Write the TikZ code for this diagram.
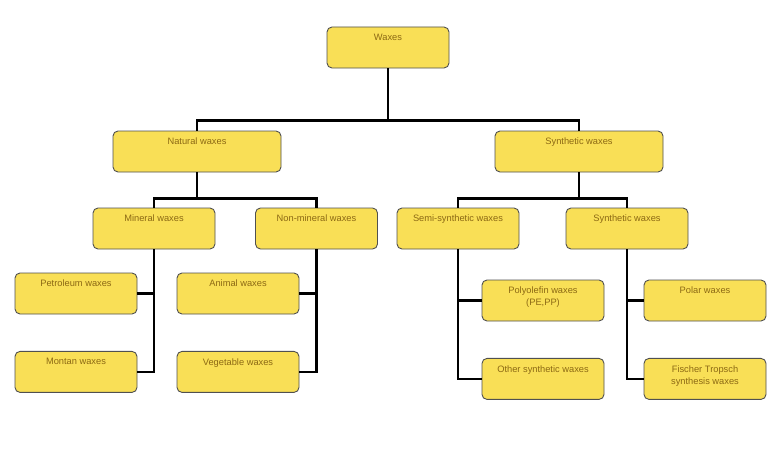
\documentclass[tikz,border=0pt]{standalone}
\usepackage{fontspec}
\setmainfont{Liberation Sans}
\usepackage{tikz}
\usetikzlibrary{positioning}

\definecolor{waxfill}{RGB}{249,223,86}
\definecolor{waxtext}{RGB}{140,105,20}
\definecolor{waxline}{RGB}{80,80,80}

\tikzset{
  waxbox/.style={draw=waxline, line width=0.9pt, fill=waxfill, rounded corners=5pt,
    minimum width=122pt, minimum height=41pt, inner sep=0pt,
    label={[anchor=north, inner sep=0pt, yshift=-7.2pt, align=center, text=waxtext,
      font=\fontsize{9.3}{12.3}\selectfont]north:#1}},
  widebox/.style={waxbox=#1, minimum width=168pt},
  link/.style={line width=2.6pt}
}

\begin{document}
\begin{tikzpicture}[x=1pt, y=-1pt, node distance=36.5pt]
\fill[white] (0,0) rectangle (783,460);
\useasboundingbox (0,0) rectangle (783,460);

% Root
\node (waxes) [waxbox=Waxes] at (388,47.5) {};

% First level
\node (natural) [widebox=Natural waxes] at (197,151.5) {};
\node (synth) [widebox=Synthetic waxes] at (579,151.5) {};

% Second level
\node (mineral) [waxbox=Mineral waxes] at (154,228.5) {};
\node (nonmin) [waxbox=Non-mineral waxes] at (316.5,228.5) {};
\node (semi) [waxbox=Semi-synthetic waxes] at (458,228.5) {};
\node (synthb) [waxbox=Synthetic waxes] at (627,228.5) {};

% Leaves
\node (petrol) [waxbox=Petroleum waxes] at (76,293.5) {};
\node (montan) [waxbox=Montan waxes, below=of petrol] {};
\node (animal) [waxbox=Animal waxes] at (238,293.5) {};
\node (veg) [waxbox=Vegetable waxes, below=of animal] {};
\node (poly) [waxbox={Polyolefin waxes\\(PE,PP)}] at (543,300.5) {};
\node (other) [waxbox=Other synthetic waxes, below=of poly] {};
\node (polar) [waxbox=Polar waxes] at (705,300.5) {};
\node (fischer) [waxbox={Fischer Tropsch\\synthesis waxes}, below=of polar] {};

% Tree lines
\draw[link] (waxes.south) -- ++(0,52) -| (natural.north);
\draw[link] (waxes.south) -- ++(0,52) -| (synth.north);
\draw[link] (natural.south) -- ++(0,26) -| (mineral.north);
\draw[link] (natural.south) -- ++(0,26) -| (nonmin.north);
\draw[link] (synth.south) -- ++(0,26) -| (semi.north);
\draw[link] (synth.south) -- ++(0,26) -| (synthb.north);

% Side lines
\draw[link] (mineral.south) |- (petrol.east);
\draw[link] (mineral.south) |- (montan.east);
\draw[link] (nonmin.south) |- (animal.east);
\draw[link] (nonmin.south) |- (veg.east);
\draw[link] (semi.south) |- (poly.west);
\draw[link] (semi.south) |- (other.west);
\draw[link] (synthb.south) |- (polar.west);
\draw[link] (synthb.south) |- (fischer.west);
\end{tikzpicture}
\end{document}
